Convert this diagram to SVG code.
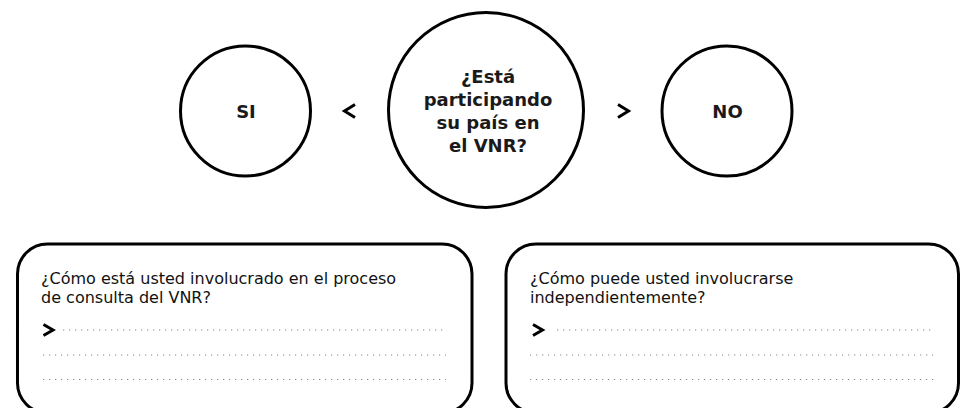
<svg xmlns="http://www.w3.org/2000/svg" width="964" height="408" viewBox="0 0 964 408">
<style>
.ring{fill:#fff;stroke:#000;stroke-width:3}
.box{fill:#fff;stroke:#000;stroke-width:3}
.hd{font-family:"DejaVu Sans","Liberation Sans",sans-serif;font-weight:700;font-size:18px;fill:#1a1a1a;text-anchor:middle}
.bd{font-family:"DejaVu Sans","Liberation Sans",sans-serif;font-size:16px;fill:#111}
.chev{fill:none;stroke:#000;stroke-width:3;stroke-linecap:butt;stroke-linejoin:miter}
.dots{stroke:#888;stroke-width:1.2;stroke-dasharray:1.2 4.8}
</style>
<rect width="964" height="408" fill="#fff"/>
<g id="si">
<circle class="ring" cx="245.5" cy="111" r="65"/>
<text class="hd" x="246" y="117.5">SI</text>
</g>
<g id="pregunta">
<circle class="ring" cx="486" cy="110" r="97.5"/>
<text class="hd" x="488" y="83">¿Está</text>
<text class="hd" x="488" y="105.5">participando</text>
<text class="hd" x="488" y="128.5">su país en</text>
<text class="hd" x="488" y="152">el VNR?</text>
</g>
<g id="no">
<circle class="ring" cx="727" cy="111" r="65"/>
<text class="hd" x="727.5" y="117.5">NO</text>
</g>
<g id="connectors">
<path class="chev" d="M355,104.5 L344.5,111 L355,117.5"/>
<path class="chev" d="M618,104.5 L628.5,111 L618,117.5"/>
</g>
<g id="caja-si">
<rect class="box" x="17.5" y="244" width="454.5" height="169" rx="30" ry="30"/>
<text class="bd" x="41" y="283.5">¿Cómo está usted involucrado en el proceso</text>
<text class="bd" x="41" y="303">de consulta del VNR?</text>
<path class="chev" d="M43.5,324.5 L53,330 L43.5,335.5"/>
<line class="dots" x1="63" y1="330" x2="446" y2="330"/>
<line class="dots" x1="43" y1="355" x2="446" y2="355"/>
<line class="dots" x1="43" y1="379.5" x2="446" y2="379.5"/>
</g>
<g id="caja-no">
<rect class="box" x="506" y="244" width="452.5" height="169" rx="30" ry="30"/>
<text class="bd" x="530" y="283.5">¿Cómo puede usted involucrarse</text>
<text class="bd" x="530" y="303">independientemente?</text>
<path class="chev" d="M533,324.5 L542.5,330 L533,335.5"/>
<line class="dots" x1="557" y1="330" x2="934" y2="330"/>
<line class="dots" x1="530" y1="355" x2="934" y2="355"/>
<line class="dots" x1="530" y1="379.5" x2="934" y2="379.5"/>
</g>
</svg>
